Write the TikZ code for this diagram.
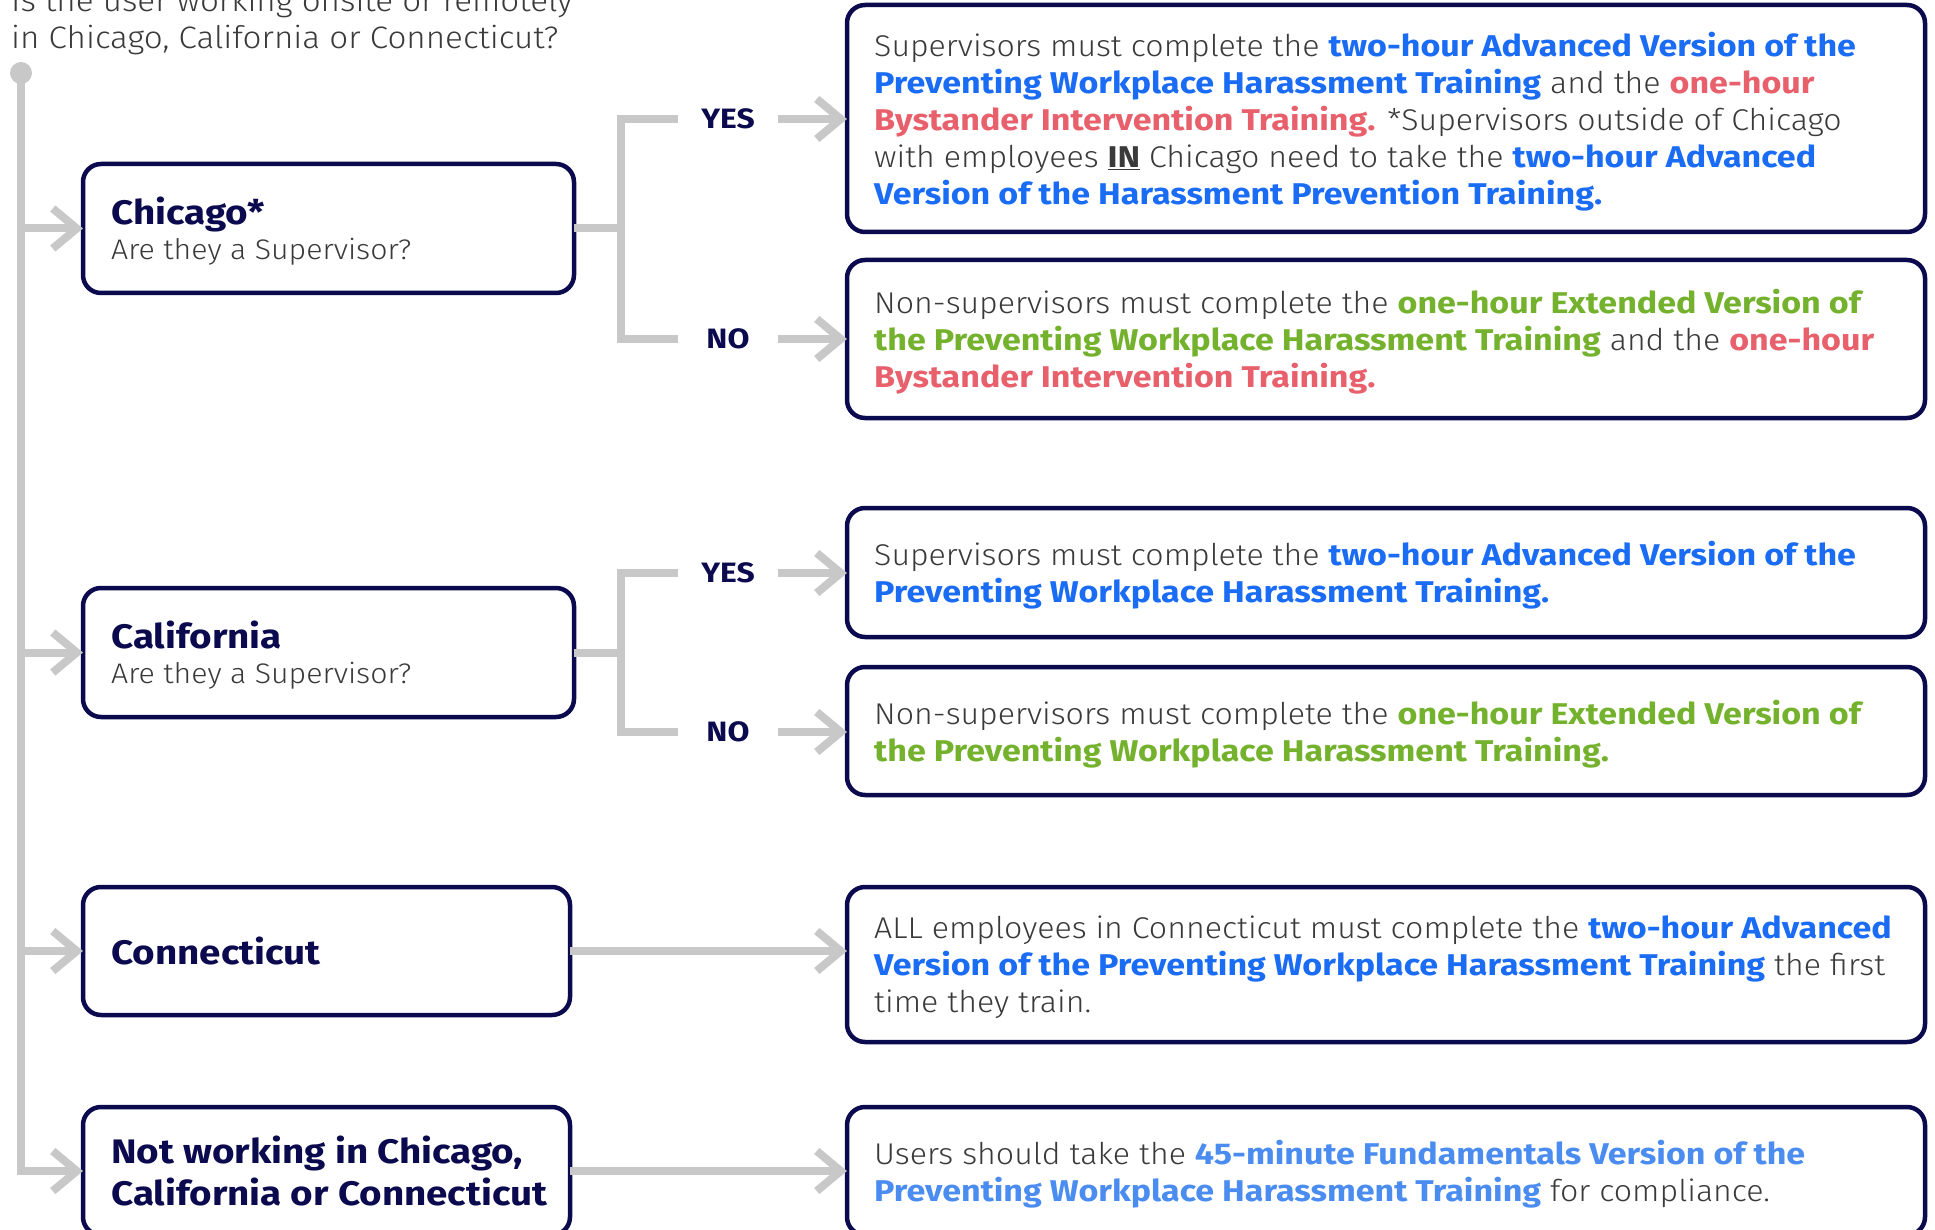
\documentclass[tikz,border=0pt]{standalone}
\usepackage{fontspec}
\usetikzlibrary{arrows.meta}
\IfFontExistsTF{Fira Sans Light}{%
  \IfFontExistsTF{Fira Sans Bold}{\setmainfont{Fira Sans Light}[FakeStretch=1.07,BoldFont={Fira Sans Bold},BoldFeatures={FakeStretch=1.135}]}{\setmainfont{Fira Sans}[FakeStretch=1.07,BoldFeatures={FakeStretch=1.135}]}%
}{\setmainfont{Fira Sans}[FakeStretch=1.07,BoldFeatures={FakeStretch=1.135}]}
\definecolor{navy}{HTML}{0B0A4E}
\definecolor{lgray}{HTML}{C8C8C8}
\definecolor{tgray}{HTML}{3A3A3A}
\definecolor{blueA}{HTML}{1A6CF5}
\definecolor{blueF}{HTML}{4A8CF0}
\definecolor{redA}{HTML}{E8606C}
\definecolor{greenA}{HTML}{74B22E}
\newcommand\hlblue[1]{\textbf{\color{blueA}#1}}
\newcommand\hlfund[1]{\textbf{\color{blueF}#1}}
\newcommand\hlred[1]{\textbf{\color{redA}#1}}
\newcommand\hlgreen[1]{\textbf{\color{greenA}#1}}
\newcommand\ttlfont{\fontsize{34}{35}\selectfont\bfseries\color{navy}}
\begin{document}
\begin{tikzpicture}[x=1pt,y=-1pt,
  conn/.style={draw=lgray, line width=8pt},
  arr/.style={conn, -{Straight Barb[length=24pt,width=40pt]}},
  lbox/.style={draw=navy, line width=4.5pt, rounded corners=18pt, inner sep=0pt, outer sep=0pt, minimum width=491pt, minimum height=129pt},
  rbox/.style={draw=navy, line width=4.5pt, rounded corners=18pt, inner sep=0pt, outer sep=0pt, minimum width=1078pt},
  body/.style={font=\fontsize{30}{37}\selectfont, text=tgray, align=left, inner sep=0pt, anchor=west, yshift=-3pt},
  lbody/.style={body, font=\fontsize{28.3}{35}\selectfont},
  ttl/.style={body, font=\fontsize{34}{42}\selectfont\bfseries, text=navy, yshift=3pt},
  yn/.style={font=\fontsize{28}{28}\selectfont\bfseries, text=navy, minimum width=100pt, inner sep=0pt}
]
\useasboundingbox (0,0) rectangle (1935,1230);
\clip (0,0) rectangle (1935,1230);
\fill[white] (0,0) rectangle (1935,1230);

% question
\node[body, font=\fontsize{31}{37}\selectfont] (q) at (11,19) {Is the user working onsite or remotely\\in Chicago, California or Connecticut?};
\node[circle, fill=lgray, minimum size=22pt, inner sep=0pt] (dot) at (21,73) {};

% left boxes
\node[lbox] (chi) at (328.5,228.5) {};
\node[lbox] (cal) at (328.5,652.5) {};
\node[lbox, minimum width=487pt, minimum height=128pt] (con) at (326.5,951) {};
\node[lbox, minimum width=487pt, minimum height=128pt] (nw) at (326.5,1171) {};

\node[lbody] (chit) at ([xshift=28pt]chi.west) {{\ttlfont Chicago*}\\Are they a Supervisor?};
\node[lbody] (calt) at ([xshift=28pt]cal.west) {{\ttlfont California}\\Are they a Supervisor?};
\node[ttl] (cont) at ([xshift=28pt]con.west) {Connecticut};
\node[ttl] (nwt) at ([xshift=28pt]nw.west) {Not working in Chicago,\\California or Connecticut};

% right boxes
\node[rbox, minimum height=227pt] (r1) at (1386,118.5) {};
\node[rbox, minimum height=158pt] (r2) at (1386,339) {};
\node[rbox, minimum height=129pt] (r3) at (1386,572.5) {};
\node[rbox, minimum height=128pt] (r4) at (1386,731) {};
\node[rbox, minimum height=155pt] (r5) at (1386,964.5) {};
\node[rbox, minimum height=128pt] (r6) at (1386,1171) {};

\node[body] (r1t) at ([xshift=27pt]r1.west) {Supervisors must complete the \hlblue{two-hour Advanced Version of the}\\
\hlblue{Preventing Workplace Harassment Training} and the \hlred{one-hour}\\
\hlred{Bystander Intervention Training.} *Supervisors outside of Chicago\\
with employees \textbf{\underline{IN}} Chicago need to take the \hlblue{two-hour Advanced}\\
\hlblue{Version of the Harassment Prevention Training.}};
\node[body] (r2t) at ([xshift=27pt]r2.west) {Non-supervisors must complete the \hlgreen{one-hour Extended Version of}\\
\hlgreen{the Preventing Workplace Harassment Training} and the \hlred{one-hour}\\
\hlred{Bystander Intervention Training.}};
\node[body] (r3t) at ([xshift=27pt]r3.west) {Supervisors must complete the \hlblue{two-hour Advanced Version of the}\\
\hlblue{Preventing Workplace Harassment Training.}};
\node[body] (r4t) at ([xshift=27pt]r4.west) {Non-supervisors must complete the \hlgreen{one-hour Extended Version of}\\
\hlgreen{the Preventing Workplace Harassment Training.}};
\node[body] (r5t) at ([xshift=27pt]r5.west) {ALL employees in Connecticut must complete the \hlblue{two-hour Advanced}\\
\hlblue{Version of the Preventing Workplace Harassment Training} the first\\
time they train.};
\node[body] (r6t) at ([xshift=27pt]r6.west) {Users should take the \hlfund{45-minute Fundamentals Version of the}\\
\hlfund{Preventing Workplace Harassment Training} for compliance.};

% yes / no labels
\coordinate (chij) at (621,228.5);
\coordinate (calj) at (621,652.5);
\node[yn] (yes1) at (728,119) {YES};
\node[yn] (no1) at (728,339) {NO};
\node[yn] (yes2) at (728,573) {YES};
\node[yn] (no2) at (728,732) {NO};

% trunk and connectors
\draw[arr] (dot.center) |- (nw.west);
\draw[arr] (dot |- chi.west) -- (chi.west);
\draw[arr] (dot |- cal.west) -- (cal.west);
\draw[arr] (dot |- con.west) -- (con.west);

\draw[conn] (chi.east) -- (chij);
\draw[conn] (yes1.west) -| (chij) |- (no1.west);
\draw[arr] (yes1.east) -- (yes1.east -| r1.west);
\draw[arr] (no1.east) -- (no1.east -| r2.west);

\draw[conn] (cal.east) -- (calj);
\draw[conn] (yes2.west) -| (calj) |- (no2.west);
\draw[arr] (yes2.east) -- (yes2.east -| r3.west);
\draw[arr] (no2.east) -- (no2.east -| r4.west);

\draw[arr] (con.east) -- (con.east -| r5.west);
\draw[arr] (nw.east) -- (nw.east -| r6.west);
\end{tikzpicture}
\end{document}
